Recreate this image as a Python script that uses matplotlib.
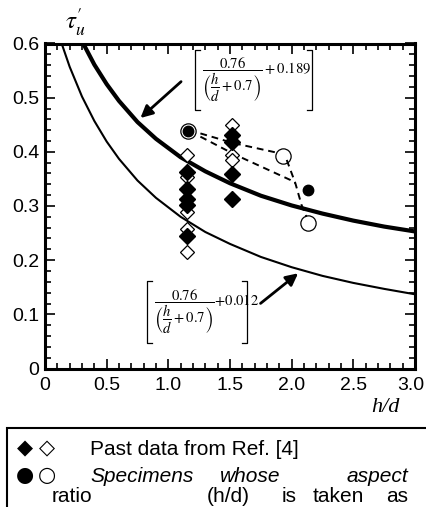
import matplotlib
matplotlib.use("Agg")
import matplotlib.pyplot as plt
from matplotlib.ticker import MultipleLocator, FixedLocator
from matplotlib.patches import Rectangle
from matplotlib.transforms import ScaledTranslation

plt.rcParams['font.family'] = ['Liberation Sans', 'DejaVu Sans']
plt.rcParams['mathtext.fontset'] = 'stix'

# ---- data ----
upper_x = [0.31, 0.40, 0.50, 0.60, 0.75, 0.90, 1.10, 1.30, 1.50, 1.75, 2.00, 2.25, 2.50, 2.75, 3.00]
upper_y = [0.600, 0.561, 0.525, 0.494, 0.455, 0.424, 0.390, 0.364, 0.342, 0.319, 0.301, 0.286, 0.273, 0.262, 0.253]

lower_x = [0.135, 0.20, 0.30, 0.40, 0.50, 0.60, 0.75, 0.90, 1.10, 1.30, 1.50, 1.75, 2.00, 2.25, 2.50, 2.75, 3.00]
lower_y = [0.600, 0.557, 0.502, 0.457, 0.419, 0.387, 0.347, 0.315, 0.280, 0.252, 0.230, 0.206, 0.187, 0.171, 0.158, 0.147, 0.137]

past_open_x = [1.15, 1.15, 1.15, 1.15, 1.15, 1.52, 1.52, 1.52]
past_open_y = [0.394, 0.353, 0.289, 0.257, 0.216, 0.450, 0.394, 0.385]
past_filled_x = [1.15, 1.15, 1.15, 1.15, 1.15, 1.52, 1.52, 1.52, 1.52]
past_filled_y = [0.363, 0.331, 0.312, 0.302, 0.245, 0.431, 0.419, 0.359, 0.312]

spec_filled_x = [1.16, 2.13]
spec_filled_y = [0.439, 0.330]
spec_open_x = [1.16, 1.93, 2.13]
spec_open_y = [0.439, 0.392, 0.269]

dashA_x = [1.26, 1.53, 1.89]
dashA_y = [0.434, 0.416, 0.398]
dashC_x = [1.96, 2.03, 2.08, 2.12]
dashC_y = [0.385, 0.342, 0.302, 0.280]
dashB_x = [1.26, 1.53, 1.99, 2.03]
dashB_y = [0.428, 0.396, 0.348, 0.342]

x_ticks = [0, 0.5, 1.0, 1.5, 2.0, 2.5, 3.0]
x_ticklabels = ['0', '0.5', '1.0', '1.5', '2.0', '2.5', '3.0']
y_ticks = [0, 0.1, 0.2, 0.3, 0.4, 0.5, 0.6]
y_ticklabels = ['0', '0.1', '0.2', '0.3', '0.4', '0.5', '0.6']

W, H = 427, 507
fig = plt.figure(figsize=(W / 100, H / 100), dpi=100)
ax = fig.add_axes([45 / W, 1 - 368.5 / H, 370 / W, 325 / H])

ax.plot(upper_x, upper_y, color='black', lw=3.0, solid_capstyle='butt')
ax.plot(lower_x, lower_y, color='black', lw=1.5)

dash = dict(color='black', lw=1.4, ls=(0, (3.5, 2.5)))
ax.plot(dashA_x, dashA_y, **dash)
ax.plot(dashB_x, dashB_y, **dash)
ax.plot(dashC_x, dashC_y, **dash)

ax.plot(past_open_x, past_open_y, 'D', ms=7.5, mfc='white', mec='black', mew=0.9, ls='none')
ax.plot(past_filled_x, past_filled_y, 'D', ms=8, mfc='black', mec='black', ls='none')
ax.plot(spec_open_x, spec_open_y, 'o', ms=11, mfc='none', mec='black', mew=0.9, ls='none')
ax.plot(spec_filled_x, spec_filled_y, 'o', ms=7.5, mfc='black', mec='black', ls='none')

ax.set_xlim(0, 3.0)
ax.set_ylim(0, 0.6)
ax.xaxis.set_major_locator(FixedLocator(x_ticks))
ax.set_xticklabels(x_ticklabels)
ax.yaxis.set_major_locator(FixedLocator(y_ticks))
ax.set_yticklabels(y_ticklabels)
ax.xaxis.set_minor_locator(MultipleLocator(0.1))
ax.yaxis.set_minor_locator(MultipleLocator(0.02))
ax.tick_params(which='both', direction='in', top=True, right=True, width=1.2, colors='black')
ax.tick_params(which='major', length=7, labelsize=14)
ax.tick_params(which='minor', length=4)
ax.tick_params(axis='x', pad=6)
ax.tick_params(axis='y', pad=4)
for s in ax.spines.values():
    s.set_linewidth(2.2)

# keep last x tick label inside the figure
last = ax.get_xticklabels()[-1]
last.set_transform(last.get_transform() + ScaledTranslation(-4 / 100, 0, fig.dpi_scale_trans))

# arrows
ax.annotate('', xy=(0.757, 0.459), xytext=(1.12, 0.533),
            arrowprops=dict(arrowstyle='-|>', color='black', lw=2.0, mutation_scale=18))
ax.annotate('', xy=(2.07, 0.179), xytext=(1.73, 0.117),
            arrowprops=dict(arrowstyle='-|>', color='black', lw=2.0, mutation_scale=18))

# formula boxes with square brackets
def bracket_box(x0, x1, y0, y1, text):
    tl = 0.04
    for xs, xe in ((x0, x0 + tl), (x1, x1 - tl)):
        ax.plot([xe, xs, xs, xe], [y1, y1, y0, y0], color='black', lw=0.9, clip_on=False)
    ax.text(x0 + 0.06, (y0 + y1) / 2, text, ha='left', va='center', fontsize=10.5)

bracket_box(1.217, 2.163, 0.477, 0.588,
            r'$\dfrac{0.76}{\left(\dfrac{h}{d}+0.7\right)}+0.189$')
bracket_box(0.827, 1.640, 0.047, 0.162,
            r'$\dfrac{0.76}{\left(\dfrac{h}{d}+0.7\right)}{+}0.012$')

# axis labels
fig.text(75 / W, 1 - 22 / H, r"$\tau^{\prime}_{u}$", fontsize=18, ha='center', va='center')
fig.text(400 / W, 1 - 408 / H, 'h/d', fontsize=16, ha='right', va='center',
         family='Liberation Serif', style='italic')

# legend box
fig.add_artist(Rectangle((7 / W, -0.1), 0.99, 1 - 428 / H + 0.1, transform=fig.transFigure,
                         fill=False, ec='black', lw=1.5))
fs = 15
fig.text(25 / W, 1 - 448 / H, '\u25C6', fontsize=15, ha='center', va='center', family='DejaVu Sans')
fig.text(47 / W, 1 - 448 / H, '\u25C7', fontsize=15, ha='center', va='center', family='DejaVu Sans')
fig.text(25 / W, 1 - 475 / H, '\u25CF', fontsize=15, ha='center', va='center', family='DejaVu Sans')
fig.text(47 / W, 1 - 475 / H, '\u25CB', fontsize=15, ha='center', va='center', family='DejaVu Sans')
fig.text(90 / W, 1 - 455 / H, 'Past data from Ref. [4]', fontsize=fs, ha='left', va='baseline')
fig.text(90 / W, 1 - 482 / H, 'Specimens', fontsize=fs, ha='left', va='baseline', style='italic')
fig.text(250 / W, 1 - 482 / H, 'whose', fontsize=fs, ha='center', va='baseline', style='italic')
fig.text(408 / W, 1 - 482 / H, 'aspect', fontsize=fs, ha='right', va='baseline', style='italic')
fig.text(52 / W, 1 - 502 / H, 'ratio', fontsize=fs, ha='left', va='baseline')
fig.text(207 / W, 1 - 502 / H, '(h/d)', fontsize=fs, ha='left', va='baseline')
fig.text(282 / W, 1 - 502 / H, 'is', fontsize=fs, ha='left', va='baseline')
fig.text(313 / W, 1 - 502 / H, 'taken', fontsize=fs, ha='left', va='baseline')
fig.text(408 / W, 1 - 502 / H, 'as', fontsize=fs, ha='right', va='baseline')

fig.savefig('out.png', dpi=100)
